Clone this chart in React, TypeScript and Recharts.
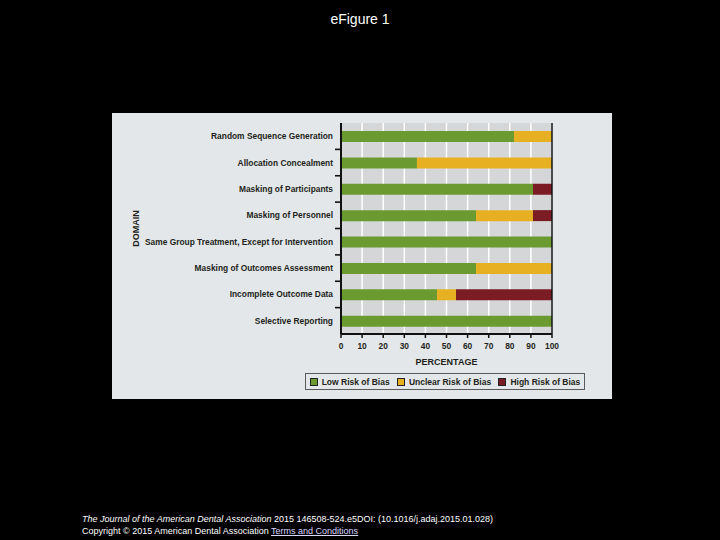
import React from 'react';
import {
  BarChart,
  Bar,
  XAxis,
  YAxis,
  CartesianGrid,
  ReferenceLine,
  Legend,
} from 'recharts';

const categories = [
  'Random Sequence Generation',
  'Allocation Concealment',
  'Masking of Participants',
  'Masking of Personnel',
  'Same Group Treatment, Except for Intervention',
  'Masking of Outcomes Assessment',
  'Incomplete Outcome Data',
  'Selective Reporting',
];
const lowRisk = [82, 36, 91, 64, 100, 64, 45.5, 100];
const unclearRisk = [18, 64, 0, 27, 0, 36, 9, 0];
const highRisk = [0, 0, 9, 9, 0, 0, 45.5, 0];
const xTicks = [0, 10, 20, 30, 40, 50, 60, 70, 80, 90, 100];
const seriesNames = ['Low Risk of Bias', 'Unclear Risk of Bias', 'High Risk of Bias'];

const GREEN = '#6b9b30';
const YELLOW = '#e6b022';
const RED = '#7b1b24';

const data = categories.map((c, i) => ({
  domain: c,
  low: lowRisk[i],
  unclear: unclearRisk[i],
  high: highRisk[i],
}));

const FONT = '"Liberation Sans", Arial, sans-serif';
const PLOT_HEIGHT = 211;
const TICK_MARGIN = 8;

const LegendBox = (props: any) => {
  const payload = [...(props.payload || [])].sort(
    (a: any, b: any) => seriesNames.indexOf(a.value) - seriesNames.indexOf(b.value)
  );
  return (
    <div
      style={{
        width: 278,
        height: 15,
        border: '1px solid #5a5a5a',
        background: '#e4e7e9',
        display: 'flex',
        alignItems: 'center',
        justifyContent: 'space-around',
        fontFamily: FONT,
        fontWeight: 'bold',
        fontSize: 8.5,
        color: '#231f20',
        boxSizing: 'content-box',
      }}
    >
      {payload.map((p: any) => (
        <span key={p.value} style={{ display: 'flex', alignItems: 'center' }}>
          <span
            style={{
              display: 'inline-block',
              width: 6,
              height: 6,
              background: p.color,
              border: '1px solid #222',
              marginRight: 4,
            }}
          />
          {p.value}
        </span>
      ))}
    </div>
  );
};

const DomainLabel = (props: any) => {
  const vb = props.viewBox || {};
  const x = (vb.x || 0) + 24;
  const y = (vb.y || 0) + (vb.height || 0) / 2;
  return (
    <text
      x={x}
      y={y}
      transform={`rotate(-90, ${x}, ${y})`}
      textAnchor="middle"
      dominantBaseline="central"
      fontFamily={FONT}
      fontWeight="bold"
      fontSize={9}
      fill="#231f20"
    >
      DOMAIN
    </text>
  );
};

function CategoryTick(props: any) {
  const { x, y, payload } = props;
  const label = String(payload?.value ?? '');
  const idx = categories.indexOf(label);
  const half = PLOT_HEIGHT / categories.length / 2;
  const axisX = Number(x) + TICK_MARGIN;
  const by = Number(y) + half;
  const showLine = idx < categories.length - 1;
  return (
    <g>
      <text
        x={x}
        y={y}
        textAnchor="end"
        dominantBaseline="central"
        fontFamily={FONT}
        fontWeight="bold"
        fontSize={8.4}
        fill="#231f20"
      >
        {label}
      </text>
      {showLine && (
        <path d={`M${axisX - 6},${by}H${axisX}`} stroke="#111111" strokeWidth={1.6} fill="none" />
      )}
    </g>
  );
}

export default function App() {
  return (
    <div
      style={{
        position: 'absolute',
        left: 0,
        top: 0,
        width: 720,
        height: 540,
        background: '#000000',
        overflow: 'hidden',
        fontFamily: FONT,
      }}
    >
      <div
        style={{
          position: 'absolute',
          left: 0,
          width: 720,
          top: 11,
          textAlign: 'center',
          color: '#ffffff',
          fontSize: 14,
          fontFamily: FONT,
        }}
      >
        eFigure 1
      </div>
      <div
        style={{
          position: 'absolute',
          left: 112,
          top: 113,
          width: 500,
          height: 286,
          background: '#e4e7e9',
        }}
      >
        <BarChart
          width={500}
          height={286}
          layout="vertical"
          data={data}
          margin={{ top: 10, right: 60, bottom: 25, left: 0 }}
          barCategoryGap={0}
        >
          <CartesianGrid
            fill="#d4d6d8"
            horizontal={false}
            vertical={true}
            stroke="#ffffff"
            strokeWidth={1.5}
            verticalValues={xTicks}
          />
          <XAxis
            type="number"
            domain={[0, 100]}
            ticks={xTicks}
            interval={0}
            height={40}
            axisLine={{ stroke: '#111', strokeWidth: 2 }}
            tickLine={{ stroke: '#111', strokeWidth: 1.5 }}
            tickSize={4}
            tickMargin={5}
            tick={{ fontFamily: FONT, fontWeight: 'bold', fontSize: 8.4, fill: '#231f20' }}
            label={{
              value: 'PERCENTAGE',
              position: 'insideBottom',
              offset: 9,
              fontFamily: FONT,
              fontWeight: 'bold',
              fontSize: 9,
              fill: '#231f20',
            }}
          />
          <XAxis
            xAxisId="top"
            type="number"
            domain={[0, 100]}
            orientation="top"
            height={0}
            tick={false}
            tickLine={false}
            axisLine={{ stroke: '#111', strokeWidth: 1.5 }}
          />
          <YAxis
            yAxisId="cat"
            type="category"
            dataKey="domain"
            width={229}
            axisLine={{ stroke: '#111', strokeWidth: 2 }}
            tickLine={false}
            tickSize={0}
            tickMargin={TICK_MARGIN}
            tick={CategoryTick}
            interval={0}
            label={<DomainLabel />}
          />
          <ReferenceLine x={100} yAxisId="cat" stroke="#111" strokeWidth={1.5} />
          <Legend
            layout="horizontal"
            verticalAlign="middle"
            align="center"
            content={<LegendBox />}
            wrapperStyle={{ position: 'absolute', left: 193, top: 260, width: 280, height: 17 }}
          />
          <Bar dataKey="low" name={seriesNames[0]} stackId="a" yAxisId="cat" fill={GREEN} barSize={11} isAnimationActive={false} />
          <Bar dataKey="unclear" name={seriesNames[1]} stackId="a" yAxisId="cat" fill={YELLOW} barSize={11} isAnimationActive={false} />
          <Bar dataKey="high" name={seriesNames[2]} stackId="a" yAxisId="cat" fill={RED} barSize={11} isAnimationActive={false} />
        </BarChart>
      </div>
      <div
        style={{
          position: 'absolute',
          left: 82,
          top: 513,
          color: '#ffffff',
          fontSize: 9,
          lineHeight: '12px',
          fontFamily: FONT,
          whiteSpace: 'nowrap',
        }}
      >
        <div>
          <i>The Journal of the American Dental Association</i> 2015 146508-524.e5DOI: (10.1016/j.adaj.2015.01.028)
        </div>
        <div>
          Copyright © 2015 American Dental Association{' '}
          <span style={{ textDecoration: 'underline', color: '#d8d8ff' }}>Terms and Conditions</span>
        </div>
      </div>
    </div>
  );
}
